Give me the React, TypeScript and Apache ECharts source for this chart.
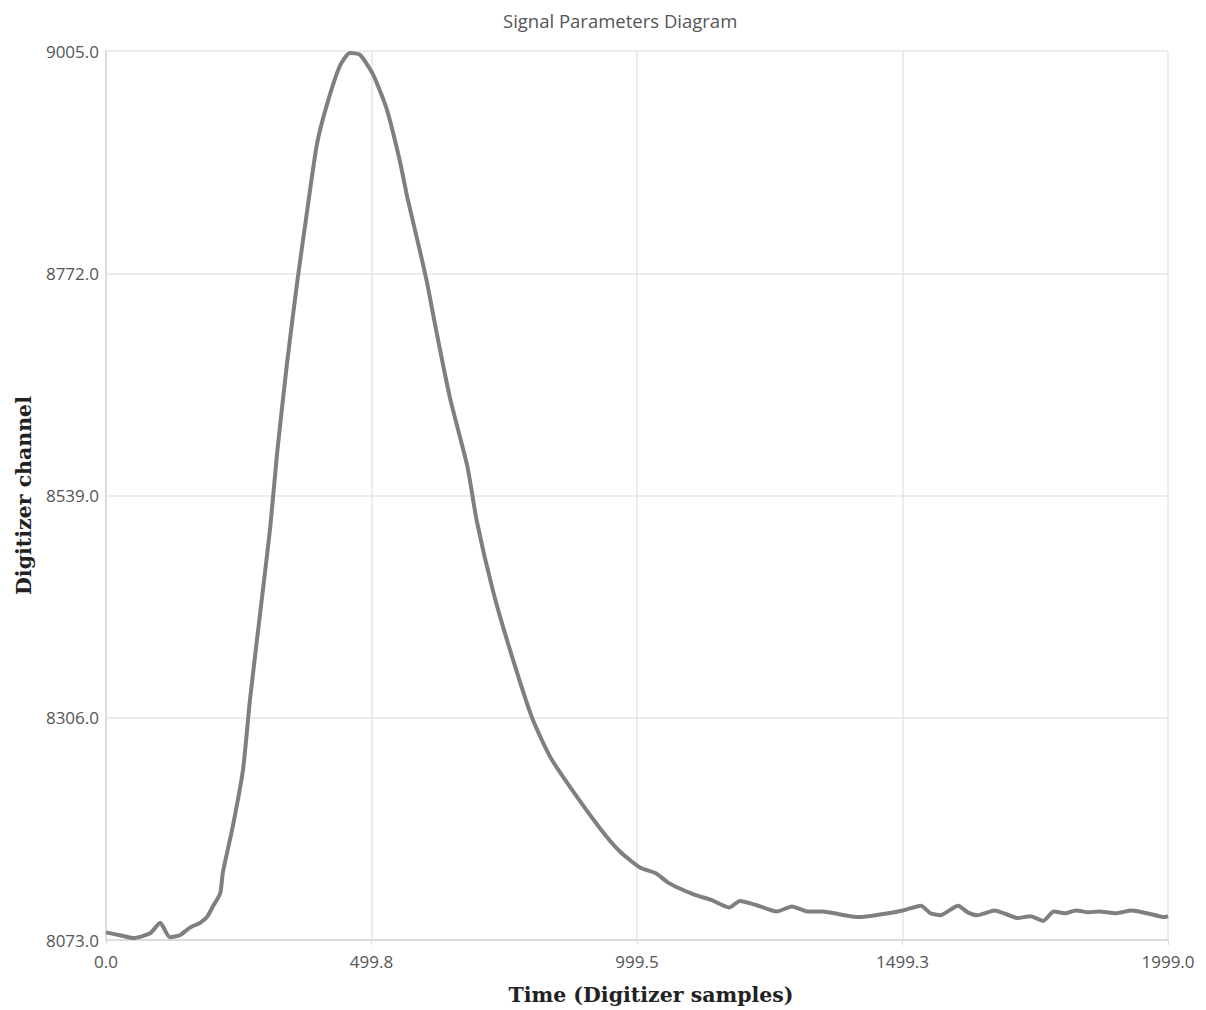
import React, { useEffect, useRef } from "react";
import * as echarts from "echarts";

const timeSamples = [
  0, 26, 51, 83, 102, 120, 139, 158, 177, 190, 201, 215, 220, 239, 258, 271, 290, 309, 322, 341,
  360, 378, 397, 416, 440, 459, 478, 503, 529, 553, 567, 591, 604, 616, 629, 648, 680, 698, 728, 760,
  802, 836, 879, 930, 967, 1005, 1035, 1056, 1080, 1110, 1139, 1173, 1193, 1222, 1263, 1291, 1320, 1348, 1380, 1417,
  1460, 1500, 1534, 1552, 1570, 1604, 1622, 1640, 1673, 1695, 1715, 1740, 1764, 1784, 1805, 1826, 1850, 1869, 1900, 1931,
  1960, 1993, 1999,
];
const channelValues = [
  8081, 8078, 8075, 8080, 8091, 8076, 8078, 8086, 8091, 8097, 8108, 8122, 8144, 8193, 8252, 8325, 8415, 8505, 8583, 8679,
  8763, 8835, 8907, 8949, 8989, 9003, 9001, 8980, 8943, 8890, 8852, 8795, 8763, 8728, 8691, 8640, 8570, 8512, 8440, 8378,
  8306, 8265, 8229, 8190, 8166, 8149, 8143, 8134, 8127, 8120, 8115, 8107, 8114, 8110, 8103, 8108, 8103, 8103, 8100, 8097,
  8100, 8104, 8109, 8101, 8099, 8109, 8102, 8099, 8104, 8100, 8096, 8098, 8093, 8103, 8101, 8104, 8102, 8103, 8101, 8104,
  8101, 8097, 8098,
];
const yTicks = [8073, 8306, 8539, 8772, 9005];

export default function App() {
  const ref = useRef<HTMLDivElement>(null);
  useEffect(() => {
    if (!ref.current) return;
    const chart = echarts.init(ref.current, null, { renderer: "svg" });
    const data = timeSamples.map((t, i) => [t, channelValues[i]]);
    chart.setOption({
      animation: false,
      backgroundColor: "#ffffff",
      title: {
        text: "Signal Parameters Diagram",
        left: 498,
        top: 6,
        textStyle: { fontFamily: "Open Sans", fontSize: 18.5, fontWeight: "normal", color: "#555" },
      },
      grid: { left: 106, right: 38, top: 51, bottom: 70, containLabel: false, outerBoundsMode: "none" },
      xAxis: {
        type: "value",
        min: 0,
        max: 1999,
        interval: 499.75,
        name: "Time (Digitizer samples)",
        nameLocation: "middle",
        nameGap: 44,
        nameTextStyle: {
          fontFamily: "DejaVu Serif",
          fontWeight: "bold",
          fontSize: 20.5,
          color: "#222",
          padding: [0, 0, 0, 28],
        },
        axisLine: { show: true, lineStyle: { color: "#dcdcdc", width: 2 } },
        axisTick: { show: true, length: 5, lineStyle: { color: "#dcdcdc" } },
        axisLabel: {
          fontFamily: "Open Sans",
          fontSize: 17,
          color: "#555",
          margin: 13,
          formatter: (v: number) => v.toFixed(1),
        },
        splitLine: { show: true, lineStyle: { color: "#e6e6e6", width: 1.5 } },
      },
      yAxis: {
        type: "value",
        min: 8073,
        max: 9005,
        name: "Digitizer channel",
        nameLocation: "middle",
        nameGap: 72,
        nameRotate: 90,
        nameTextStyle: { fontFamily: "DejaVu Serif", fontWeight: "bold", fontSize: 20.5, color: "#222" },
        axisLine: { show: true, lineStyle: { color: "#dcdcdc", width: 2 } },
        axisTick: { show: false, customValues: yTicks },
        axisLabel: {
          customValues: yTicks,
          fontFamily: "Open Sans",
          fontSize: 17,
          color: "#555",
          margin: 7,
          formatter: (v: number) => v.toFixed(1),
        },
        splitLine: { show: true, lineStyle: { color: "#e6e6e6", width: 1.5 } },
      },
      series: [
        {
          type: "line",
          data,
          showSymbol: false,
          smooth: 0.2,
          lineStyle: { color: "#7f7f7f", width: 4 },
          itemStyle: { color: "#7f7f7f" },
        },
      ],
    });
    return () => chart.dispose();
  }, []);
  return <div ref={ref} style={{ width: 1206, height: 1010, position: "absolute", left: 0, top: 0 }} />;
}
